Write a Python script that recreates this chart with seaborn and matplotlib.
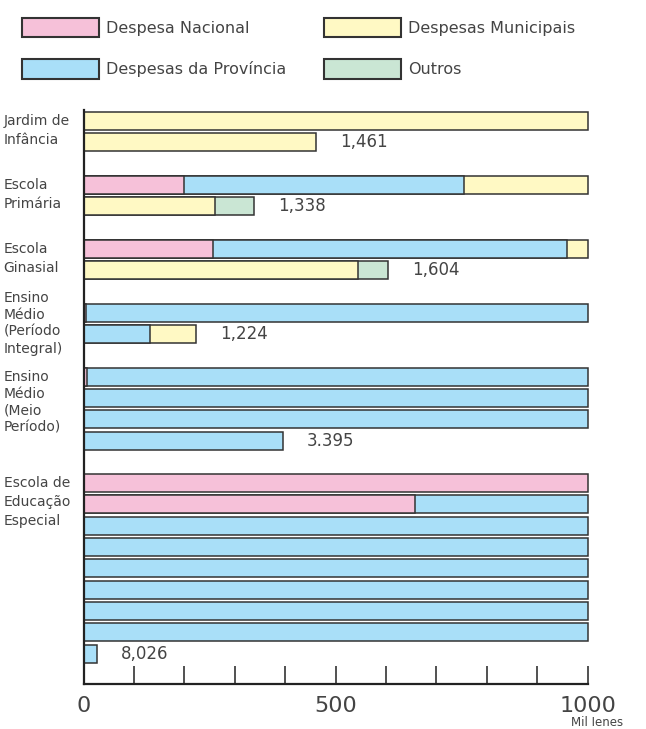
import pandas as pd
import matplotlib.pyplot as plt
import seaborn as sns
from matplotlib.patches import Patch

sns.set_theme(style="white")
plt.rcParams['font.family'] = ['DejaVu Sans']

# Dados (mil ienes por aluno)
categories = [
    ["Jardim de", "Infância"],
    ["Escola", "Primária"],
    ["Escola", "Ginasial"],
    ["Ensino", "Médio", "(Período", "Integral)"],
    ["Ensino", "Médio", "(Meio", "Período)"],
    ["Escola de", "Educação", "Especial"],
]
kinds = ["Despesa Nacional", "Despesas da Província", "Despesas Municipais", "Outros"]
nacional = [0, 199, 257, 5, 7, 1657]
provincia = [0, 555, 703, 1127, 3388, 6369]
municipal = [1461, 506, 584, 92, 0, 0]
outros = [0, 78, 60, 0, 0, 0]
total_labels = ["1,461", "1,338", "1,604", "1,224", "3.395", "8,026"]

colors = {
    "Despesa Nacional": "#F6C1D9",
    "Despesas da Província": "#A9DFF8",
    "Despesas Municipais": "#FFF9C4",
    "Outros": "#CAE6D4",
}
edge = "#333333"
text_color = "#444444"
ROW_CAP = 1000

# Quebra cada total em linhas de 1000
series = [nacional, provincia, municipal, outros]
records = []
groups = []
row = 0
for i in range(len(categories)):
    first = row
    fill = 0
    for kind, vals in zip(kinds, series):
        v = vals[i]
        while v > 0:
            if fill == ROW_CAP:
                row += 1
                fill = 0
            take = min(v, ROW_CAP - fill)
            fill += take
            v -= take
            records.append({"row": str(row), "kind": kind, "end": fill})
    groups.append((first, row, fill))
    row += 2

n_rows = row - 1
order = [str(r) for r in range(n_rows)]
df = pd.DataFrame(records)

fig = plt.figure(figsize=(6.46, 7.29), dpi=100)
ax = fig.add_axes([83.5 / 646, 45 / 729, 504 / 646, 574 / 729])

# Barras empilhadas: desenha do último segmento para o primeiro
for kind in reversed(kinds):
    sub = df[df["kind"] == kind]
    if sub.empty:
        continue
    sns.barplot(data=sub, x="end", y="row", order=order, orient="h",
                color=colors[kind], saturation=1, edgecolor=edge,
                linewidth=1.1, width=0.845, errorbar=None, ax=ax)

for p in ax.patches:
    p.set_clip_on(False)

ax.set_xlim(0, 1000)
ax.set_ylim(26.43, -0.52)
ax.set_xlabel("")
ax.set_ylabel("")

# Eixos
sns.despine(ax=ax, top=True, right=True)
for s in ["left", "bottom"]:
    ax.spines[s].set_linewidth(1.6)
    ax.spines[s].set_color("#222222")
ax.set_xticks([0, 500, 1000])
ax.set_xticklabels(["0", "500", "1000"])
ax.set_xticks(range(100, 1000, 100), minor=True)
ax.tick_params(axis="x", which="both", bottom=True, direction="in",
               length=13, width=1.1, color="#222222")
ax.tick_params(axis="x", which="major", labelsize=16, labelcolor=text_color, pad=9)
ax.tick_params(axis="y", left=False, labelleft=False)

# Totais
for (first, last, end), txt in zip(groups, total_labels):
    ax.text(end + 48, last, txt, ha="left", va="center", fontsize=12, color=text_color)

# Rótulos das categorias, na margem esquerda
label_x = (4 - 84) / 504 * 1000
for (first, last, end), lines in zip(groups, categories):
    n = len(lines)
    step = 0.9 if n <= 3 else 0.8
    y0 = min(first, (first + last) / 2 - (n - 1) * step / 2)
    for j, line in enumerate(lines):
        ax.text(label_x, y0 + j * step, line, ha="left", va="center",
                fontsize=10, color=text_color, clip_on=False)

fig.text(597 / 646, 1 - 723 / 729, "Mil Ienes", ha="center", va="center",
         fontsize=8.5, color=text_color)

# Legenda
handles = [Patch(facecolor=colors[k], edgecolor=edge, linewidth=1.5, label=k) for k in kinds]
fig.legend(handles=handles, ncol=2, loc="upper left",
           bbox_to_anchor=(14 / 646, 1 - 10 / 729), frameon=False,
           fontsize=11.5, borderpad=0, handlelength=4.8, handleheight=1.5,
           handletextpad=0.45, labelspacing=1.35, columnspacing=2.4,
           labelcolor=text_color)

fig.savefig("out.png", dpi=100)
